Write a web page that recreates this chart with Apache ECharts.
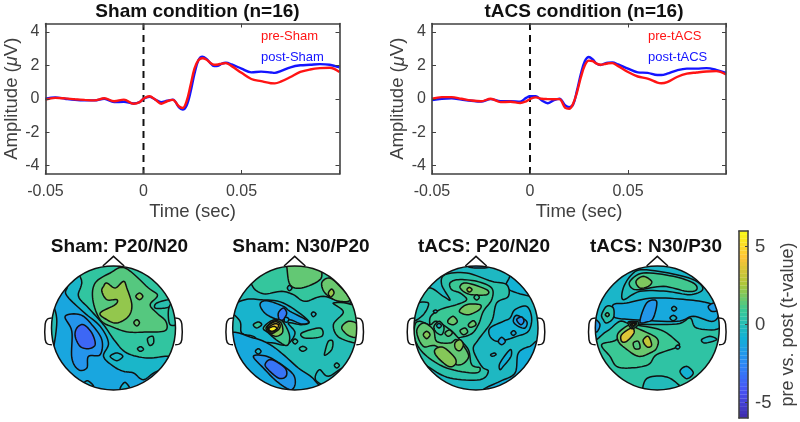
<!DOCTYPE html>
<html><head><meta charset="utf-8">
<style>html,body{margin:0;padding:0;background:#fff}#c{width:800px;height:422px}</style>
<script src="https://cdn.jsdelivr.net/npm/echarts@6/dist/echarts.min.js"></script>
</head><body><div id="c"></div>
<script>
const timeMs = [-50,-45,-40,-35,-30,-25,-20,-15,-10,-5,-2,0,3,6,9,12,15,18,20,22,24,26,28,30,32,34,36,38,40,42,45,50,55,60,65,67,70,75,80,85,90,95,100];
const preSham  = [-0.05,0.05,0.02,-0.03,-0.07,-0.1,0.03,-0.15,-0.05,-0.3,-0.2,0,0.15,-0.05,-0.3,-0.15,-0.07,-0.45,-0.55,-0.15,0.8,1.8,2.3,2.42,2.35,2.15,2.03,2.05,2.1,2.13,1.95,1.55,1.18,1.05,0.93,0.92,1.02,1.3,1.6,1.75,1.83,1.85,1.6];
const postSham = [0,0.08,0,-0.07,-0.1,-0.1,0,-0.2,-0.18,-0.28,-0.2,0,0.12,-0.05,-0.2,-0.12,-0.05,-0.5,-0.65,-0.4,0.4,1.5,2.3,2.52,2.4,2.15,1.95,1.97,2.1,2.15,2.05,1.8,1.58,1.62,1.57,1.55,1.65,1.88,2.0,2.03,2.07,2.03,1.88];
const preTacs  = [0,0.1,0.1,0,-0.1,-0.15,0,-0.2,-0.18,-0.25,-0.15,-0.02,0.08,0,-0.02,-0.03,-0.02,-0.55,-0.6,-0.3,0.4,1.3,2.0,2.28,2.25,2.1,2.03,2.07,2.12,2.13,1.95,1.6,1.33,1.2,0.97,0.93,1.0,1.3,1.5,1.57,1.63,1.65,1.45];
const postTacs = [-0.08,0,0.02,-0.05,-0.12,-0.17,-0.02,-0.15,-0.15,-0.18,0.05,0.15,0.15,-0.1,-0.27,-0.1,0,-0.4,-0.5,-0.35,0.5,1.5,2.25,2.5,2.35,2.1,2.02,2.1,2.15,2.17,2.05,1.8,1.58,1.55,1.42,1.42,1.5,1.7,1.8,1.8,1.83,1.73,1.55];
const yTicks = [-4,-2,0,2,4];
const xTicks = [-0.05,0,0.05,0.1];
const xLabels = [-0.05,0,0.05];
const barTicks = [-5,0,5];
const chartTitles = ['Sham condition (n=16)','tACS condition (n=16)'];
const mapTitles = ['Sham: P20/N20','Sham: N30/P20','tACS: P20/N20','tACS: N30/P30'];

// Contours: [t-value, outline]; head-space units
const mapSham1 = [
[-1.3,[[-100,-100],[800,-100],[800,800],[-100,800]]],
[-0.5,[[150,100],[200,175],[198,210],[250,262],[300,305],[325,355],[310,395],[340,425],[370,440],[400,445],[430,465],[470,440],[540,425],[640,400],[640,100]]],
[0.1,[[150,240],[170,290],[150,400],[120,330]]],
[0.6,[[258,90],[245,175],[235,215],[265,250],[310,300],[345,350],[380,385],[440,400],[495,395],[530,395],[640,400],[640,90]]],
[-0.4,[[330,395],[350,385],[368,395],[350,408]]],
[1.3,[[285,175],[330,145],[375,130],[445,190],[472,212],[450,240],[470,265],[497,290],[495,318],[440,322],[385,322],[340,308],[300,285],[278,225]]],
[0.2,[[470,235],[510,225],[520,240],[495,250],[465,250]]],
[0.4,[[520,235],[540,290],[510,300],[505,255]]],
[2,[[418,205],[428,215],[418,225],[407,215]]],
[1.6,[[410,285],[418,294],[410,304],[401,294]]],
[0.7,[[442,342],[458,335],[460,355],[448,362]]],
[0.2,[[412,372],[422,366],[430,374],[420,380]]],
[2.2,[[310,185],[320,175],[345,190],[370,170],[380,190],[395,240],[385,275],[350,295],[320,285],[300,265],[345,240],[350,225],[320,225],[305,200]]],
[-2.0,[[195,275],[240,270],[275,300],[305,345],[300,390],[265,395],[260,430],[235,435],[215,400],[215,320]]],
[-3.6,[[230,310],[250,300],[275,325],[285,360],[265,372],[240,365],[225,335]]],
[-0.8,[[360,495],[375,473],[392,500]]],
[-0.8,[[250,480],[262,468],[280,485]]]
];
const mapSham2 = [
[0,[[-100,-100],[1800,-100],[1800,800],[-100,800]]],
[0.7,[[755,180],[790,207],[845,200],[880,210],[915,230],[970,215],[1060,230],[1100,100],[740,100]]],
[1.5,[[855,100],[860,125],[870,180],[905,190],[960,165],[965,130],[970,100]]],
[1.6,[[965,175],[985,160],[1010,175],[1050,225],[1010,228],[975,205]]],
[2.3,[[985,205],[995,193],[1002,205],[992,217]]],
[-0.3,[[868,182],[876,190],[868,198],[862,190]]],
[0.9,[[1000,235],[1070,250],[1090,350],[1020,340],[1000,300],[1030,262]]],
[1.7,[[1025,310],[1045,290],[1075,300],[1085,335],[1050,335]]],
[-0.6,[[690,250],[735,225],[780,225],[850,235],[925,288],[905,300],[865,295],[885,325],[860,360],[820,355],[780,350],[760,335],[725,325],[720,290]]],
[-1.5,[[780,240],[800,228],[850,245],[870,260],[925,290],[905,298],[870,285],[850,290],[800,270]]],
[-3,[[835,265],[850,250],[860,265],[850,285],[838,285]]],
[0.8,[[905,325],[960,310],[965,335],[915,340]]],
[0.4,[[885,343],[893,350],[885,358],[878,350]]],
[0.4,[[908,365],[920,372],[908,380],[898,372]]],
[-0.4,[[940,262],[948,268],[940,276],[934,268]]],
[0.6,[[975,380],[985,350],[998,350],[995,375],[975,392]]],
[0.5,[[1010,415],[1018,422],[1010,430],[1003,422]]],
[-1.2,[[680,335],[760,340],[810,360],[850,390],[895,430],[945,468],[950,515],[680,515]]],
[-0.3,[[950,470],[958,435],[985,455],[1035,430],[1030,500]]],
[-0.5,[[766,380],[775,372],[783,380],[775,388]]],
[-1.9,[[760,395],[800,395],[845,420],[880,450],[885,480],[870,495],[830,470],[790,430]]],
[-3.2,[[797,415],[815,405],[855,430],[858,455],[835,460],[800,430]]],
[0.7,[[760,300],[775,292],[785,300],[770,310]]],
[1,[[790,310],[815,288],[845,288],[868,330],[862,362],[835,350],[805,325]]],
[2,[[798,310],[820,290],[842,293],[848,322],[830,335],[812,328]]],
[3,[[802,308],[822,292],[838,296],[838,312],[815,326]]],
[4,[[805,310],[822,298],[835,300],[830,315],[815,322]]],
[5.5,[[806,312],[822,305],[830,312],[815,320]]],
[-1,[[855,278],[866,282],[862,292],[853,290]]]
];
const mapTacs1 = [
[-0.3,[[-100,-100],[800,-100],[800,800],[-100,800]]],
[-1.6,[[205,125],[240,130],[270,125],[240,100]]],
[-0.8,[[330,150],[320,190],[390,215],[450,220],[450,100],[320,100]]],
[0.3,[[20,300],[50,240],[85,190],[130,215],[150,225],[125,180],[135,150],[200,145],[275,170],[320,180],[325,215],[290,235],[275,290],[235,345],[220,375],[245,425],[265,440],[240,465],[150,460],[90,430],[40,390],[20,350]]],
[0.1,[[45,240],[85,235],[70,270],[35,290]]],
[0.9,[[150,175],[175,165],[230,170],[275,190],[275,225],[250,260],[235,300],[210,330],[150,340],[100,320],[90,280],[120,255],[170,240],[200,225],[180,205],[155,195]]],
[1.0,[[45,300],[60,290],[90,300],[110,290],[150,315],[175,340],[205,375],[215,420],[240,430],[225,445],[140,430],[75,390],[45,345]]],
[1.5,[[50,320],[70,295],[100,315],[110,350],[150,355],[170,345],[195,370],[205,400],[170,420],[110,365],[70,365]]],
[2.0,[[105,375],[130,368],[165,400],[165,420],[145,425],[110,395]]],
[2.0,[[165,355],[180,345],[190,360],[180,378],[167,372]]],
[2.0,[[70,330],[80,320],[90,330],[80,342]]],
[1.6,[[180,185],[200,175],[260,195],[260,210],[215,210],[190,200]]],
[2.4,[[201,195],[208,188],[216,195],[208,202]]],
[0.9,[[222,218],[230,210],[238,218],[230,226]]],
[1.8,[[178,260],[200,240],[240,240],[238,255],[205,270]]],
[1.6,[[145,285],[160,275],[172,290],[160,300],[145,295]]],
[1.6,[[205,300],[220,288],[228,300],[212,308]]],
[1.4,[[180,318],[195,310],[203,322],[190,330]]],
[1.4,[[135,325],[148,316],[157,325],[145,335]]],
[0.7,[[102,305],[118,290],[132,308],[125,330],[108,322]]],
[-0.5,[[110,303],[117,296],[124,303],[117,310]]],
[-0.5,[[100,260],[107,256],[112,260],[106,265]]],
[-0.8,[[270,310],[310,290],[330,280],[345,255],[380,245],[395,280],[385,320],[350,335],[320,345],[290,350],[270,335]]],
[-1.4,[[340,290],[350,272],[380,290],[375,310],[355,305]]],
[-2.2,[[350,285],[365,277],[372,290],[362,300]]],
[-1.3,[[295,350],[305,338],[316,350],[305,360]]],
[-1.1,[[333,325],[341,318],[348,325],[340,332]]],
[-0.9,[[300,415],[330,375],[333,395],[310,425],[300,435]]],
[-0.5,[[272,390],[283,385],[288,390],[277,395]]],
[-1,[[420,360],[390,365],[355,385],[345,445],[300,470],[250,495],[250,520],[440,520]]]
];
const mapTacs2 = [
[0.5,[[-100,-100],[1800,-100],[1800,800],[-100,800]]],
[-0.1,[[725,505],[740,462],[790,455],[830,475],[870,530],[720,530]]],
[-0.8,[[840,440],[860,425],[880,445],[860,462]]],
[-0.2,[[905,345],[930,335],[950,345],[915,355]]],
[-0.5,[[560,340],[620,320],[660,290],[700,298],[830,298],[870,280],[890,310],[960,310],[990,250],[990,100],[560,100]]],
[-0.1,[[670,190],[695,150],[730,135],[830,150],[890,170],[908,195],[870,210],[800,200],[720,200],[670,225]]],
[1.0,[[690,170],[730,145],[820,155],[880,175],[890,195],[860,200],[790,185],[720,195],[695,190]]],
[1.9,[[708,170],[730,155],[755,170],[745,185],[720,190]]],
[-1.2,[[640,240],[680,235],[760,220],[860,225],[925,235],[960,255],[940,290],[880,275],[830,290],[700,285],[650,280],[640,270]]],
[-1.9,[[720,290],[740,235],[770,230],[760,280],[740,292]]],
[-1.7,[[925,245],[945,235],[955,255],[935,260]]],
[-0.5,[[815,252],[822,245],[830,252],[822,259]]],
[-0.5,[[810,280],[820,272],[830,280],[820,288]]],
[-1.8,[[585,285],[600,300],[590,322],[575,310]]],
[0.3,[[605,270],[620,245],[640,250],[640,280],[620,295],[610,285]]],
[1.4,[[616,270],[622,264],[628,270],[622,276]]],
[0.9,[[605,360],[650,345],[690,300],[700,300],[780,315],[825,345],[835,365],[770,390],[745,420],[690,430],[650,425],[630,395]]],
[1.6,[[655,325],[690,300],[710,310],[770,340],[770,370],[750,385],[715,395],[675,370],[655,350]]],
[3.6,[[665,330],[695,310],[702,325],[680,350],[665,350]]],
[1.3,[[700,355],[715,350],[720,370],[705,372]]],
[3.0,[[730,345],[745,335],[755,360],[745,368],[733,358]]],
[-0.4,[[827,367],[834,361],[840,367],[833,373]]],
[1,[[685,292],[715,292],[712,303],[695,312]]],
[2,[[690,293],[710,295],[705,302],[696,308]]],
[4,[[694,295],[706,296],[702,302],[697,304]]],
[5,[[696,296],[704,297],[700,302]]]
];
const allMaps = [mapSham1,mapSham2,mapTacs1,mapTacs2];
const earOutline = [[-185,-30],[-198,-27],[-205,-12],[-205,35],[-198,48],[-185,50]];
const noseOutline = [[-32,-186],[0,-215],[32,-186]];
const barSteps = [-6,-5.75,-5.5,-5.25,-5,-4.75,-4.5,-4.25,-4,-3.75,-3.5,-3.25,-3,-2.75,-2.5,-2.25,-2,-1.75,-1.5,-1.25,-1,-0.75,-0.5,-0.25,0,0.25,0.5,0.75,1,1.25,1.5,1.75,2,2.25,2.5,2.75,3,3.25,3.5,3.75,4,4.25,4.5,4.75,5,5.25,5.5,5.75];

const mapCentresData = [[340,310],[884,310],[228,310],[772,310]];
const mapCentresPx = [[113.5,328],[294.7,328],[476,328],[657.3,328]];
const titlePx = [114.5,296,479,651];
const parula = ['#3E2AA8','#4852F4','#2D87F7','#12B1D6','#37C897','#ACC739','#FEC338','#F9FB14'];

const AX = '#404040', FONT = '"Liberation Sans",Arial,sans-serif';
const option = {
  animation:false, backgroundColor:'#fff', textStyle:{fontFamily:FONT},
  title:[], grid:[], xAxis:[], yAxis:[], series:[], legend:[],
  visualMap:{type:'continuous',min:-6,max:6,seriesIndex:[],dimension:2,show:false,inRange:{color:parula}}
};
function closedSpline(pts){
  const out=[], n=pts.length;
  for(let i=0;i<n;i++){
    const a=pts[(i-1+n)%n], b=pts[i], c=pts[(i+1)%n], d=pts[(i+2)%n];
    for(let k=0;k<8;k++){
      const t=k/8, t2=t*t, t3=t2*t;
      out.push([0,1].map(j=>0.5*(2*b[j]+(c[j]-a[j])*t+(2*a[j]-5*b[j]+4*c[j]-d[j])*t2+(3*b[j]-a[j]-3*c[j]+d[j])*t3)));
    }
  }
  return out;
}
function axisBase(extra){
  return Object.assign({type:'value',axisLine:{show:true,onZero:false,lineStyle:{color:AX,width:1.6}},
    splitLine:{show:false},axisTick:{show:true,inside:true,length:4,lineStyle:{color:AX,width:1}},z:10,silent:true},extra);
}
function lineChart(i,left,s1,s2,n1,n2,legendLeft,titleX){
  const g=option.grid.length;
  option.grid.push({left:left,top:23.5,width:294,height:150.5,outerBoundsMode:'none'});
  const xi=option.xAxis.length, yi=option.yAxis.length;
  const xr={min:-0.05,max:0.1,gridIndex:g};
  const yr={min:-4.5,max:4.5,gridIndex:g};
  option.xAxis.push(axisBase({...xr,position:'bottom',name:'Time (sec)',nameLocation:'middle',nameGap:28,
    nameTextStyle:{fontSize:18.5,color:AX,fontFamily:FONT},
    axisTick:{show:true,inside:true,length:4,lineStyle:{color:AX},customValues:xTicks},
    axisLabel:{fontSize:16,color:AX,margin:10,customValues:xLabels,formatter:v=>Math.abs(v)<1e-9?'0':String(+v.toFixed(2)),hideOverlap:false}}));
  option.xAxis.push(axisBase({...xr,position:'top',axisLabel:{show:false},
    axisTick:{show:true,inside:true,length:4,lineStyle:{color:AX},customValues:xTicks}}));
  option.yAxis.push(axisBase({...yr,position:'left',name:'{a|Amplitude (}{m|\u03BC}{a|V)}',nameLocation:'middle',nameGap:22,
    nameTextStyle:{rich:{a:{fontSize:18.5,color:AX,fontFamily:FONT},m:{fontSize:18.5,color:AX,fontStyle:'italic',fontFamily:FONT}}},
    axisTick:{show:true,inside:true,length:4,lineStyle:{color:AX},customValues:yTicks},
    axisLabel:{fontSize:16,color:AX,margin:6,customValues:yTicks}}));
  option.yAxis.push(axisBase({...yr,position:'right',axisLabel:{show:false},
    axisTick:{show:true,inside:true,length:4,lineStyle:{color:AX},customValues:yTicks}}));
  const pts=a=>timeMs.map((t,k)=>[t/1000,a[k]]);
  option.series.push({type:'line',xAxisIndex:xi,yAxisIndex:yi,data:[[0,-4.5],[0,4.5]],symbol:'none',silent:true,
    lineStyle:{color:'#111',width:2,type:[7,5]},z:2});
  option.series.push({name:n2,type:'line',xAxisIndex:xi,yAxisIndex:yi,data:pts(s2),symbol:'none',smooth:0.35,
    lineStyle:{color:'#1414FF',width:2.4},itemStyle:{color:'#1414FF'},z:3});
  option.series.push({name:n1,type:'line',xAxisIndex:xi,yAxisIndex:yi,data:pts(s1),symbol:'none',smooth:0.35,
    lineStyle:{color:'#FF1414',width:2.4},itemStyle:{color:'#FF1414'},z:4});
  option.legend.push({left:legendLeft,top:25,orient:'vertical',itemWidth:0,itemHeight:0,itemGap:7.5,selectedMode:false,
    icon:'none',data:[{name:n1,textStyle:{color:'#FF1414'}},{name:n2,textStyle:{color:'#1414FF'}}],
    textStyle:{fontSize:13,fontFamily:FONT}});
  option.title.push({text:chartTitles[i],left:titleX,top:-3,textAlign:'center',
    textStyle:{fontSize:19,fontWeight:'bold',color:'#111',fontFamily:FONT}});
}
lineChart(0,45.5,preSham,postSham,'pre-Sham','post-Sham',251,192.5);
lineChart(1,432,preTacs,postTacs,'pre-tACS','post-tACS',638,579);

allMaps.forEach((contours,m)=>{
  const [dx,dy]=mapCentresData[m], [px,py]=mapCentresPx[m];
  const g=option.grid.length;
  option.grid.push({left:px-80,top:py-80,width:160,height:160,outerBoundsMode:'none'});
  const xi=option.xAxis.length, yi=option.yAxis.length;
  option.xAxis.push({type:'value',gridIndex:g,min:dx-240,max:dx+240,show:false});
  option.yAxis.push({type:'value',gridIndex:g,min:dy-240,max:dy+240,inverse:true,show:false});
  option.visualMap.seriesIndex.push(option.series.length);
  option.series.push({type:'custom',xAxisIndex:xi,yAxisIndex:yi,silent:true,z:2,clip:false,
    data:contours.map((c,k)=>[dx,dy,c[0],k]),encode:{x:0,y:1},
    renderItem(params,api){
      const k=api.value(3), c=api.coord([dx,dy]), r=api.size([186,0])[0];
      return {type:'polygon',shape:{points:closedSpline(contours[k][1]).map(p=>api.coord(p))},
        style:{fill:api.visual('color'),stroke:'#111',lineWidth:1.5},
        clipPath:{type:'circle',shape:{cx:c[0],cy:c[1],r:r}}};
    }});
  option.series.push({type:'custom',xAxisIndex:xi,yAxisIndex:yi,silent:true,z:5,clip:false,
    data:[[dx,dy]],encode:{x:0,y:1},
    renderItem(params,api){
      const c=api.coord([dx,dy]), r=api.size([186,0])[0];
      const map=(arr,sx)=>arr.map(p=>api.coord([dx+sx*p[0],dy+p[1]]));
      const st={fill:null,stroke:'#111',lineWidth:1.5};
      return {type:'group',children:[
        {type:'circle',shape:{cx:c[0],cy:c[1],r:r},style:st},
        {type:'polyline',shape:{points:map(noseOutline,1)},style:st},
        {type:'polyline',shape:{points:map(earOutline,1),smooth:0.3},style:st},
        {type:'polyline',shape:{points:map(earOutline,-1),smooth:0.3},style:st}
      ]};
    }});
  option.title.push({text:mapTitles[m],left:titlePx[m],top:232,textAlign:'center',
    textStyle:{fontSize:19,fontWeight:'bold',color:'#111',fontFamily:FONT}});
});

// colour bar: scale, frame and fill
const gb=option.grid.length;
option.grid.push({left:739,top:231,width:9,height:187,outerBoundsMode:'none'});
const barR={min:-6,max:6,gridIndex:gb};
const bx=option.xAxis.length, by=option.yAxis.length;
option.xAxis.push(axisBase({min:0,max:1,gridIndex:gb,position:'bottom',axisTick:{show:false},axisLabel:{show:false}}));
option.xAxis.push(axisBase({min:0,max:1,gridIndex:gb,position:'top',axisTick:{show:false},axisLabel:{show:false}}));
option.yAxis.push(axisBase({...barR,position:'left',axisLabel:{show:false},axisTick:{show:false}}));
option.yAxis.push(axisBase({...barR,position:'right',name:'pre vs. post (t-value)',nameLocation:'middle',nameGap:31,nameRotate:90,
  nameTextStyle:{fontSize:18,color:AX,fontFamily:FONT},
  axisTick:{show:true,inside:true,length:3,lineStyle:{color:AX},customValues:barTicks},
  axisLabel:{fontSize:18.5,color:AX,margin:7,customValues:barTicks}}));
option.visualMap.seriesIndex.push(option.series.length);
option.series.push({type:'custom',xAxisIndex:bx,yAxisIndex:by,silent:true,z:1,
  data:barSteps.map(v=>[0,v,v+0.125]),encode:{x:0,y:1},
  renderItem(params,api){
    const v=api.value(1), a=api.coord([0,v+0.26]), b=api.coord([1,v]);
    return {type:'rect',shape:{x:a[0],y:a[1],width:b[0]-a[0],height:b[1]-a[1]},style:{fill:api.visual('color')}};
  }});

const chart=echarts.init(document.getElementById('c'),null,{renderer:'canvas'});
chart.setOption(option);
</script></body></html>
